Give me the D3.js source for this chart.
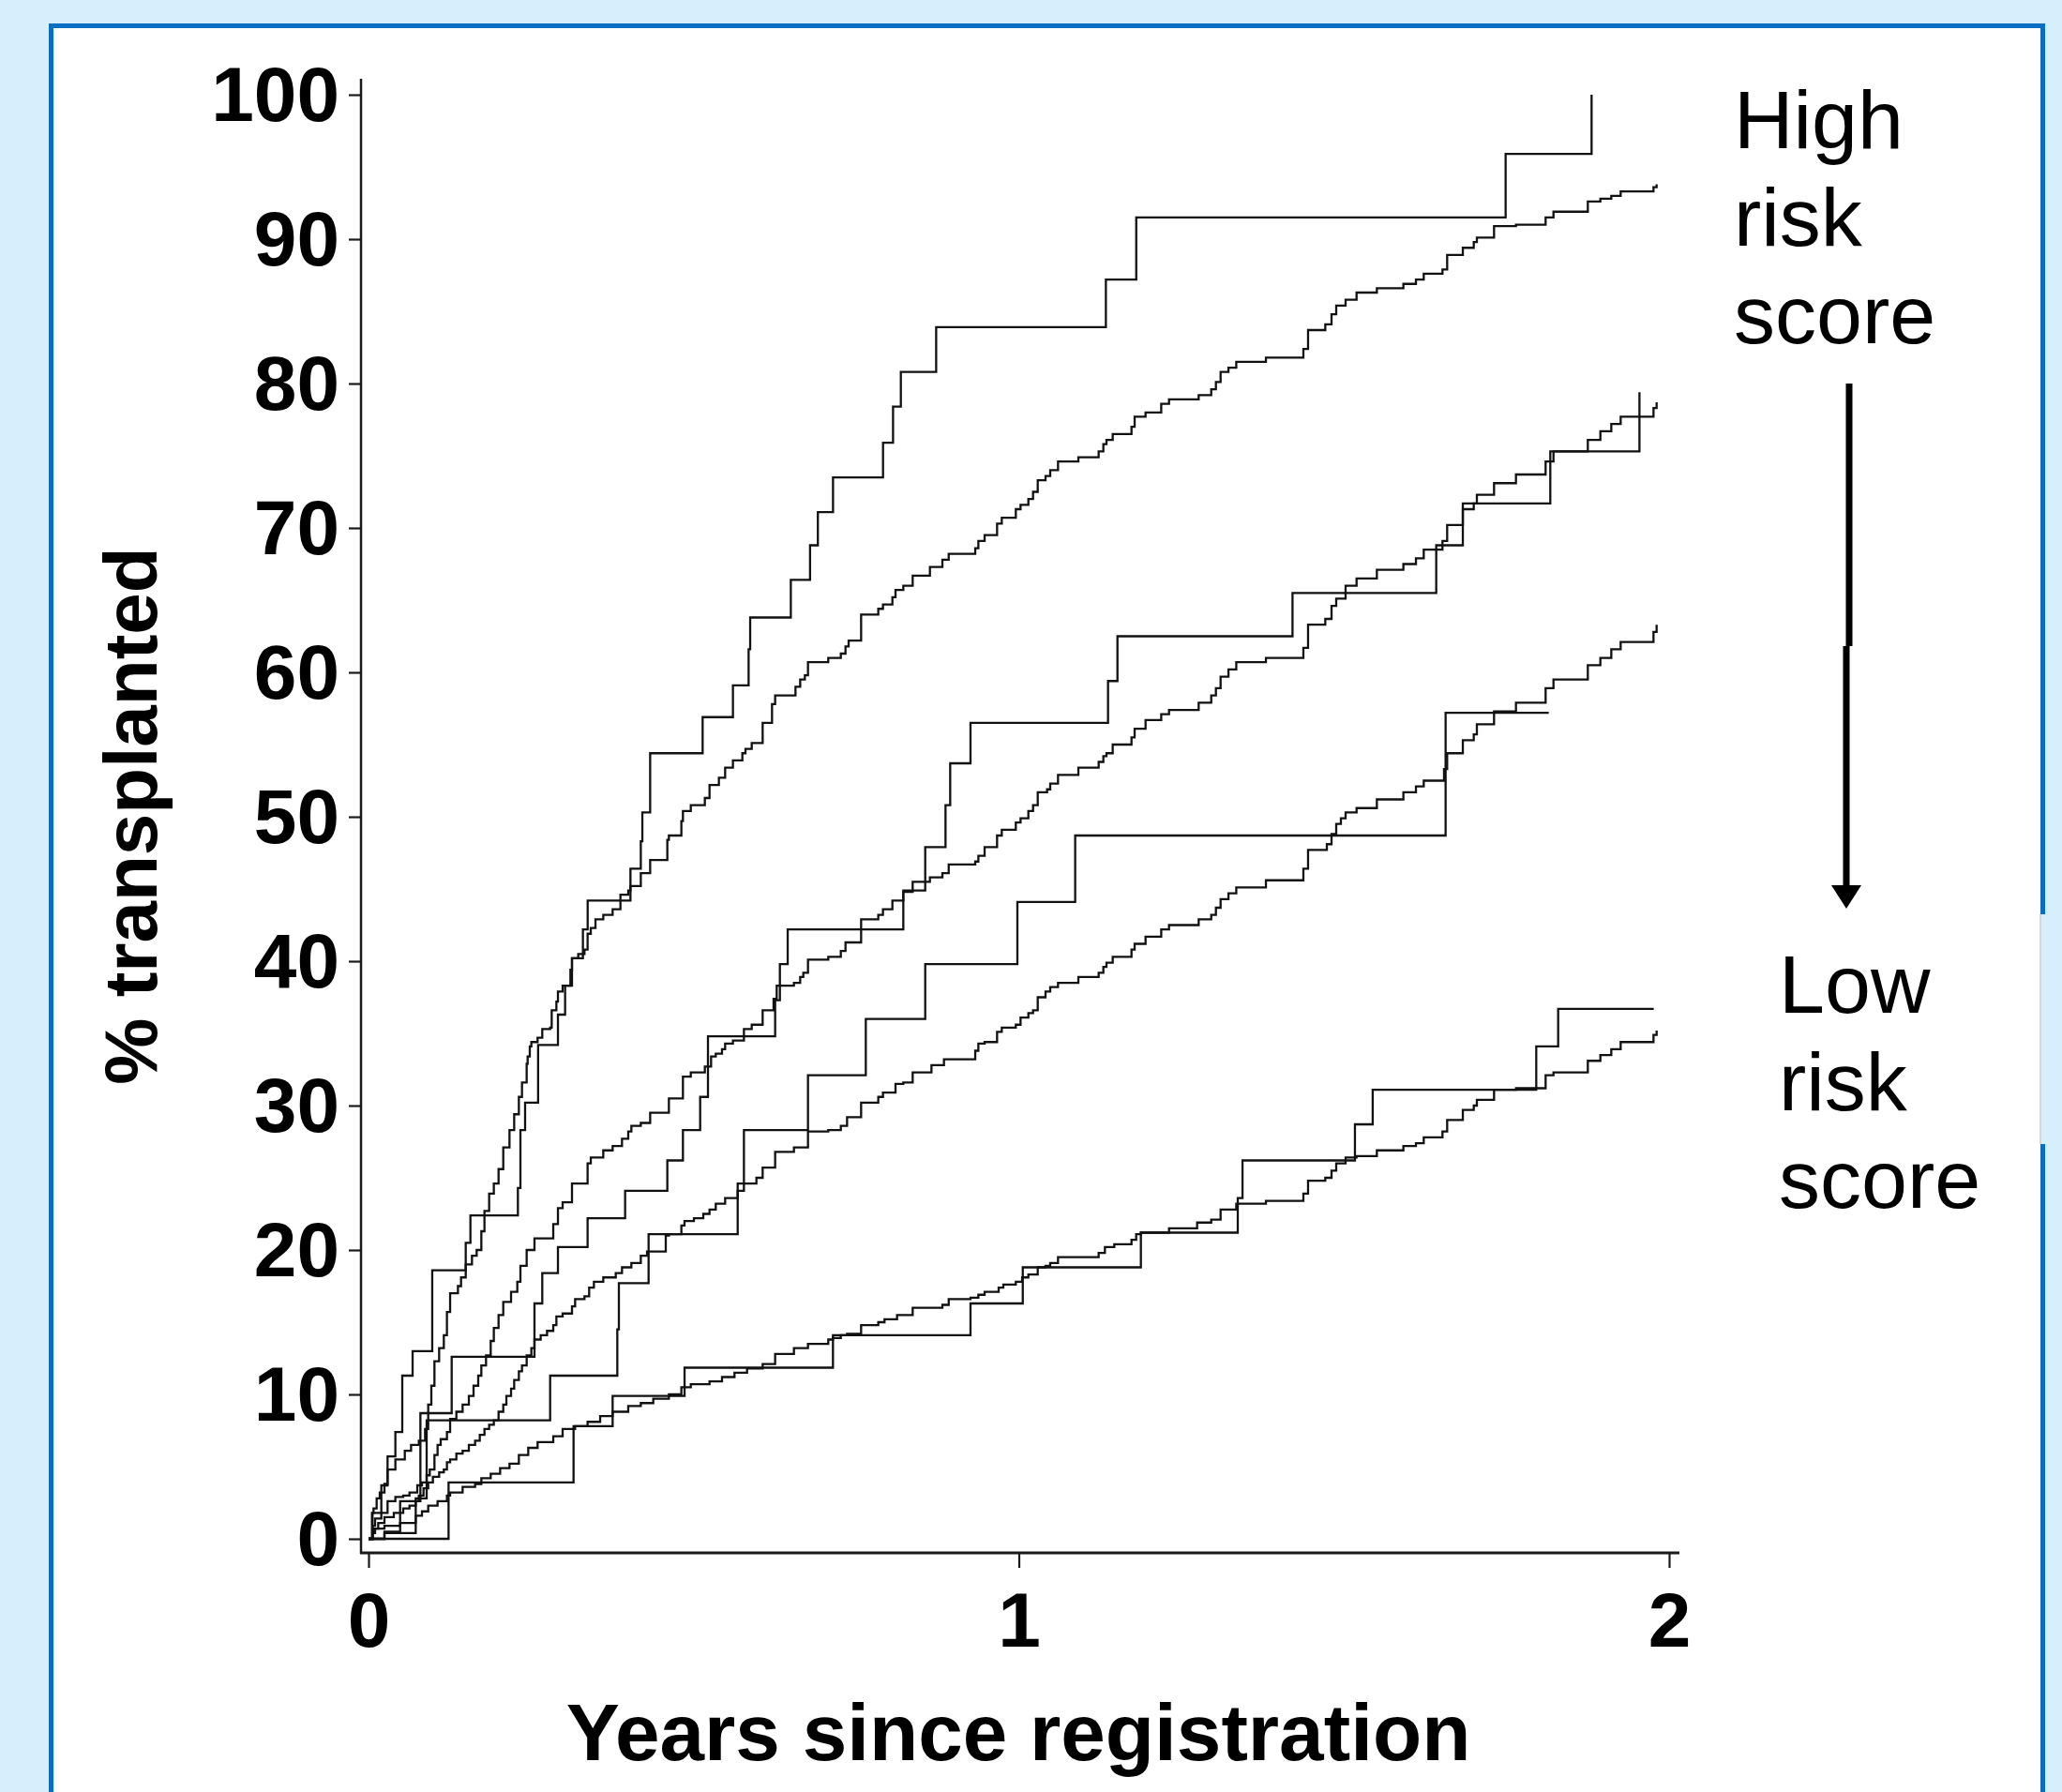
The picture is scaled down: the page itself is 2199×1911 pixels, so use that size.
<!DOCTYPE html>
<html><head><meta charset="utf-8">
<script src="https://cdn.jsdelivr.net/npm/d3@7"></script>
<style>
html,body{margin:0;padding:0;background:#d7eefc;}
svg{display:block;}
</style></head><body>
<svg id="chart" width="2199" height="1911"></svg>
<script>
// ---------- DATA ----------
const xTicks = [0, 1, 2];
const yTicks = [0, 10, 20, 30, 40, 50, 60, 70, 80, 90, 100];
const xTitle = "Years since registration";
const yTitle = "% transplanted";
const highText = ["High", "risk", "score"];
const lowText = ["Low", "risk", "score"];

// [years, % transplanted] step points (Kaplan-Meier style)
const highObserved = [[0,0],[0.0062,1.8],[0.0197,3.7],[0.0293,5.7],[0.0413,7.4],[0.0519,11.3],[0.0678,13.0],[0.098,18.6],[0.1495,20.5],[0.1567,22.4],[0.2297,24.3],[0.2336,28.3],[0.2408,30.2],[0.2608,34.2],[0.2913,36.3],[0.3023,38.3],[0.3129,40.2],[0.3297,42.2],[0.337,44.2],[0.4028,46.4],[0.4187,48.3],[0.4211,50.3],[0.4331,54.4],[0.5138,56.9],[0.5604,59.1],[0.5845,61.6],[0.5869,63.8],[0.6494,66.4],[0.679,68.8],[0.691,71.1],[0.7143,73.5],[0.7912,75.9],[0.8066,78.4],[0.8186,80.8],[0.8729,83.9],[1.1339,87.2],[1.1806,91.5],[1.7486,95.9],[1.8808,100]];

const highPredicted = [[0,0],[0.0053,1.8],[0.0077,2.1],[0.0125,2.8],[0.0173,3.2],[0.0245,3.8],[0.0293,4.8],[0.0413,5.5],[0.0558,6.1],[0.0654,6.5],[0.0774,6.8],[0.087,7.6],[0.0918,9.3],[0.0966,10.6],[0.1014,12.3],[0.1086,13.2],[0.1158,14.1],[0.1206,15.7],[0.1255,17.0],[0.1375,17.5],[0.1423,18.1],[0.1495,19.0],[0.1591,19.6],[0.1663,20.0],[0.1735,21.3],[0.1783,22.7],[0.1855,23.9],[0.1927,24.6],[0.2,25.6],[0.2072,27.1],[0.2168,28.3],[0.224,29.4],[0.2312,30.6],[0.236,31.6],[0.2432,32.9],[0.2447,33.4],[0.248,34.1],[0.2504,34.4],[0.26,34.7],[0.2672,35.3],[0.2793,35.4],[0.2817,36.6],[0.2889,37.2],[0.2913,37.9],[0.2985,38.3],[0.3105,39.4],[0.3129,40.2],[0.3225,40.5],[0.3321,40.8],[0.3369,41.9],[0.3418,42.3],[0.349,42.9],[0.361,43.2],[0.3754,43.6],[0.3874,44.6],[0.3994,44.9],[0.4028,45.2],[0.4187,46.1],[0.4331,47.0],[0.4595,48.4],[0.4619,48.7],[0.4811,49.7],[0.4835,50.4],[0.4956,50.8],[0.5172,51.3],[0.5244,52.2],[0.5388,52.7],[0.5484,53.4],[0.5604,53.9],[0.5749,54.4],[0.5797,54.7],[0.5893,55.1],[0.6061,56.5],[0.6205,57.8],[0.6253,58.4],[0.6566,59.0],[0.6638,59.5],[0.671,59.8],[0.6758,60.7],[0.707,61.0],[0.7263,61.3],[0.7335,61.8],[0.7383,62.2],[0.7575,64.0],[0.7839,64.4],[0.7911,64.7],[0.8056,65.2],[0.8104,65.7],[0.8224,66.0],[0.8368,66.7],[0.8633,67.3],[0.8825,67.8],[0.8922,68.2],[0.933,68.6],[0.9378,69.1],[0.9474,69.5],[0.9666,70.3],[0.9738,70.7],[0.9954,71.3],[1.0027,71.6],[1.0147,72.0],[1.0219,72.5],[1.0291,73.3],[1.0411,73.6],[1.0483,74.0],[1.0603,74.6],[1.0916,74.9],[1.1228,75.3],[1.13,75.8],[1.1348,76.1],[1.1444,76.5],[1.1733,77.0],[1.1781,77.7],[1.1949,78.0],[1.219,78.6],[1.231,78.9],[1.2766,79.2],[1.2959,79.6],[1.3031,80.1],[1.3103,80.8],[1.3224,81.1],[1.3344,81.5],[1.38,81.8],[1.4376,82.4],[1.4448,83.7],[1.4713,84.1],[1.4809,84.8],[1.4881,85.4],[1.5025,85.8],[1.5194,86.3],[1.5506,86.6],[1.5914,86.9],[1.6107,87.2],[1.6227,87.6],[1.6515,87.9],[1.6587,88.9],[1.6828,89.4],[1.6996,89.8],[1.7044,90.1],[1.7308,90.9],[1.7645,91.0],[1.8101,91.5],[1.8222,91.9],[1.875,92.6],[1.8943,92.8],[1.9111,93.0],[1.9255,93.3],[1.976,93.6],[1.9808,93.8]];

const midHighObserved = [[0,0],[0.0245,0.5],[0.0486,2.6],[0.0798,8.7],[0.1279,12.6],[0.2552,16.3],[0.2672,18.4],[0.2913,20.2],[0.3369,22.2],[0.3946,24.1],[0.4595,26.2],[0.4835,28.3],[0.51,30.6],[0.522,34.8],[0.6253,37.3],[0.6326,39.8],[0.6446,42.2],[0.8224,44.9],[0.8561,47.9],[0.8873,50.8],[0.8945,53.7],[0.9257,56.5],[1.1372,59.4],[1.1517,62.5],[1.4209,65.5],[1.6419,68.8],[1.6828,71.7],[1.8173,75.3],[1.9544,79.4]];

const midHighPredicted = [[0,0],[0.0062,0.9],[0.0101,1.4],[0.0197,1.8],[0.0293,2.6],[0.0413,2.9],[0.0534,3.0],[0.063,3.2],[0.075,3.7],[0.0822,3.9],[0.0894,4.4],[0.0942,4.8],[0.1014,5.8],[0.1062,6.5],[0.111,6.9],[0.1206,7.4],[0.1255,8.3],[0.1351,8.8],[0.1447,9.3],[0.1543,9.9],[0.1615,10.6],[0.1687,11.3],[0.1735,12.0],[0.1807,12.7],[0.1879,13.7],[0.1927,14.6],[0.2,15.5],[0.2072,16.4],[0.2192,17.1],[0.2288,17.8],[0.2336,18.9],[0.2432,20.0],[0.2552,20.8],[0.2841,21.8],[0.2913,22.9],[0.2985,23.3],[0.3129,24.6],[0.3369,26.0],[0.3418,26.4],[0.361,26.9],[0.3754,27.2],[0.3898,27.7],[0.3994,28.2],[0.4042,28.6],[0.4187,28.8],[0.4331,29.5],[0.4619,30.5],[0.4835,32.0],[0.4956,32.3],[0.5172,32.7],[0.5268,33.4],[0.534,33.6],[0.5436,33.9],[0.5484,34.3],[0.5604,34.5],[0.5773,35.3],[0.5893,35.6],[0.6061,36.6],[0.6229,37.4],[0.6277,38.3],[0.6542,38.5],[0.6638,38.9],[0.6686,39.2],[0.6758,40.1],[0.707,40.3],[0.7263,40.7],[0.7335,41.3],[0.7575,42.9],[0.7839,43.2],[0.7911,43.6],[0.8056,44.2],[0.8224,44.8],[0.8368,45.5],[0.8633,45.8],[0.8825,46.1],[0.8922,46.7],[0.933,46.9],[0.9378,47.3],[0.9474,47.9],[0.9666,48.7],[0.9738,49.1],[0.9954,49.6],[1.0027,49.9],[1.0147,50.4],[1.0219,50.8],[1.0291,51.7],[1.0435,51.9],[1.0483,52.3],[1.0603,52.9],[1.0916,53.4],[1.1228,53.8],[1.13,54.2],[1.1348,54.4],[1.1444,55.0],[1.1733,55.5],[1.1781,56.1],[1.1949,56.7],[1.219,57.1],[1.231,57.4],[1.2766,57.9],[1.2959,58.4],[1.3031,58.9],[1.3103,59.7],[1.3224,60.2],[1.3344,60.7],[1.38,61.0],[1.4376,61.7],[1.4448,63.3],[1.4713,63.7],[1.4809,64.6],[1.4881,65.1],[1.5025,66.0],[1.5194,66.5],[1.5506,67.1],[1.5914,67.5],[1.6107,67.9],[1.6227,68.5],[1.6515,69.1],[1.6587,70.2],[1.6828,71.3],[1.6996,71.7],[1.7044,72.3],[1.7308,73.1],[1.7645,73.7],[1.8101,74.6],[1.8222,75.3],[1.875,76.1],[1.8943,76.7],[1.9111,77.2],[1.9255,77.7],[1.976,78.3],[1.9808,78.7]];

const midLowObserved = [[0,0],[0.0245,0.4],[0.0726,2.8],[0.0894,8.2],[0.2793,11.3],[0.3826,14.5],[0.385,17.7],[0.4307,21.1],[0.5677,24.6],[0.5773,28.3],[0.6758,32.1],[0.7647,36.0],[0.8561,39.8],[0.9978,44.1],[1.0867,48.7],[1.6563,57.2],[1.8149,57.2]];

const midLowPredicted = [[0,0],[0.0062,0.4],[0.0077,0.7],[0.0149,1.1],[0.0245,1.5],[0.0389,1.8],[0.0534,2.1],[0.063,2.3],[0.0726,2.6],[0.0774,3.0],[0.0846,3.5],[0.0918,3.9],[0.099,4.3],[0.1086,4.6],[0.1158,4.8],[0.1206,5.3],[0.1255,5.5],[0.1351,5.9],[0.1447,6.1],[0.1543,6.5],[0.1639,6.8],[0.1711,7.2],[0.1783,7.6],[0.1855,7.9],[0.1927,8.2],[0.2,8.8],[0.2072,9.3],[0.212,9.9],[0.2192,10.4],[0.224,11.0],[0.2312,11.6],[0.236,12.0],[0.2432,12.7],[0.2504,13.2],[0.2552,13.8],[0.2648,14.1],[0.2745,14.4],[0.2841,14.8],[0.2889,15.4],[0.2985,15.6],[0.3129,16.1],[0.3177,16.6],[0.3321,16.8],[0.3393,17.4],[0.3466,17.8],[0.361,18.1],[0.3802,18.4],[0.3898,18.8],[0.4042,19.1],[0.4187,19.6],[0.4283,19.9],[0.4571,21.0],[0.4619,21.1],[0.4811,21.7],[0.4859,22.0],[0.5004,22.2],[0.5148,22.5],[0.5244,22.8],[0.534,23.2],[0.5484,23.6],[0.5677,24.1],[0.5773,24.6],[0.5965,25.0],[0.6061,25.7],[0.6253,26.8],[0.6542,27.1],[0.6758,28.2],[0.707,28.3],[0.7263,28.6],[0.7359,29.2],[0.7575,30.2],[0.7839,30.6],[0.7911,30.9],[0.8104,31.5],[0.8224,31.6],[0.8368,32.3],[0.8657,32.8],[0.8849,33.2],[0.933,33.8],[0.9378,34.3],[0.9474,34.4],[0.9666,35.1],[0.9738,35.4],[0.9954,35.6],[1.0027,36.1],[1.0147,36.4],[1.0219,36.6],[1.0291,37.5],[1.0411,37.9],[1.0483,38.2],[1.0603,38.5],[1.0916,38.9],[1.1228,39.2],[1.13,39.6],[1.1348,39.9],[1.1444,40.3],[1.1733,40.8],[1.1781,41.2],[1.1949,41.7],[1.219,42.2],[1.231,42.5],[1.2766,42.9],[1.2959,43.2],[1.3031,43.7],[1.3103,44.3],[1.3224,44.7],[1.3344,45.1],[1.38,45.6],[1.4376,46.4],[1.4448,47.7],[1.4737,48.1],[1.4809,48.8],[1.4881,49.5],[1.4953,49.9],[1.5025,50.3],[1.5194,50.6],[1.5506,51.2],[1.5914,51.7],[1.6107,52.1],[1.6227,52.5],[1.6539,53.3],[1.6587,54.4],[1.6828,55.3],[1.6996,55.7],[1.7044,56.4],[1.7308,57.3],[1.7645,57.9],[1.8101,58.9],[1.8222,59.5],[1.875,60.5],[1.8943,61.0],[1.9111,61.6],[1.9255,62.1],[1.976,62.8],[1.9808,63.3]];

const lowObserved = [[0,0],[0.1231,3.9],[0.3153,7.8],[0.3754,9.9],[0.486,11.85],[0.7142,14.1],[0.9257,16.3],[1.0061,18.8],[1.1877,21.2],[1.3367,23.6],[1.344,26.2],[1.5169,28.7],[1.5442,31.1],[1.7957,34.1],[1.8294,36.7],[1.9764,36.7]];

const lowPredicted = [[0,0],[0.0062,0.4],[0.0101,0.7],[0.0245,0.9],[0.0486,1.1],[0.0726,1.6],[0.0822,1.9],[0.0918,2.3],[0.1062,2.6],[0.1206,3.0],[0.1255,3.2],[0.1447,3.6],[0.1639,3.8],[0.1735,4.2],[0.1879,4.5],[0.2024,4.9],[0.2168,5.2],[0.2312,5.8],[0.2456,6.3],[0.26,6.7],[0.2841,7.1],[0.2985,7.6],[0.3177,7.8],[0.3369,8.1],[0.3562,8.5],[0.3754,8.8],[0.3994,9.2],[0.4187,9.4],[0.4379,9.7],[0.4619,10.0],[0.4811,10.5],[0.4956,10.7],[0.5244,10.9],[0.5436,11.2],[0.5628,11.5],[0.5821,11.8],[0.6061,12.1],[0.6253,12.8],[0.6542,13.2],[0.6758,13.5],[0.707,13.8],[0.7142,13.9],[0.7263,14.1],[0.7359,14.2],[0.7575,14.8],[0.7839,15.0],[0.7935,15.2],[0.8128,15.5],[0.8368,16.0],[0.8825,16.2],[0.8922,16.6],[0.9257,16.7],[0.9378,16.9],[0.9474,17.1],[0.969,17.4],[0.9762,17.6],[0.9954,17.8],[1.0051,18.1],[1.0147,18.3],[1.0291,18.8],[1.0411,18.9],[1.0483,19.1],[1.0603,19.5],[1.1228,19.8],[1.1324,20.2],[1.1468,20.4],[1.1733,20.7],[1.1805,21.1],[1.1877,21.2],[1.231,21.5],[1.2742,21.9],[1.2959,22.1],[1.3103,22.8],[1.3344,23.2],[1.38,23.4],[1.4376,23.9],[1.4448,24.8],[1.4713,25.0],[1.4809,25.5],[1.4881,26.0],[1.5025,26.4],[1.5194,26.5],[1.5506,26.9],[1.5914,27.2],[1.6107,27.4],[1.6227,27.8],[1.6515,28.2],[1.6587,29.0],[1.6828,29.7],[1.6996,30.0],[1.7044,30.4],[1.7308,31.1],[1.7645,31.2],[1.8101,32.1],[1.8222,32.3],[1.875,33.1],[1.8943,33.5],[1.9111,33.9],[1.9255,34.4],[1.976,34.9],[1.9808,35.2]];

const seriesList = [highObserved, highPredicted, midHighObserved, midHighPredicted,
                    midLowObserved, midLowPredicted, lowObserved, lowPredicted];

// ---------- DRAW ----------
const svg = d3.select("#chart");
const W = 2199, H = 1911;
const FONT = "'Liberation Sans', Arial, Helvetica, sans-serif";

// panel
svg.append("rect").attr("x", 0).attr("y", 0).attr("width", W).attr("height", H).attr("fill", "#d7eefc");
svg.append("rect").attr("x", 54.5).attr("y", 27.5).attr("width", 2124).attr("height", 1920)
  .attr("fill", "#ffffff").attr("stroke", "#0a6fc2").attr("stroke-width", 5);
// small break in the right border
svg.append("rect").attr("x", 2175).attr("y", 975).attr("width", 7).attr("height", 245).attr("fill", "#d7eefc");
svg.append("line").attr("x1", 2176).attr("x2", 2176).attr("y1", 975).attr("y2", 1220)
  .attr("stroke", "#c9d3dc").attr("stroke-width", 1.5);

const x = d3.scaleLinear().domain([0, 2]).range([393, 1780]);
const y = d3.scaleLinear().domain([0, 100]).range([1641, 101]);

// axis lines (offset from data origin, as in the original)
const axisColor = "#1a1a1a";
svg.append("line").attr("x1", 385).attr("x2", 385).attr("y1", 84).attr("y2", 1657)
  .attr("stroke", axisColor).attr("stroke-width", 2.5);
svg.append("line").attr("x1", 384).attr("x2", 1791).attr("y1", 1656).attr("y2", 1656)
  .attr("stroke", axisColor).attr("stroke-width", 3);

const gy = svg.append("g").attr("transform", "translate(385,0)")
  .call(d3.axisLeft(y).tickValues(yTicks).tickSize(13).tickPadding(10).tickFormat(d3.format("d")));
gy.select(".domain").remove();
gy.selectAll(".tick line").attr("stroke", axisColor).attr("stroke-width", 2.2);
gy.selectAll(".tick text").attr("font-family", FONT).attr("font-weight", "bold")
  .attr("font-size", 82).attr("fill", "#000").attr("dy", "0.33em");

const gx = svg.append("g").attr("transform", "translate(0,1656)")
  .call(d3.axisBottom(x).tickValues(xTicks).tickSize(16).tickFormat(d3.format("d")));
gx.select(".domain").remove();
gx.selectAll(".tick line").attr("stroke", axisColor).attr("stroke-width", 2.2);
gx.selectAll(".tick text").attr("font-family", FONT).attr("font-weight", "bold")
  .attr("font-size", 82).attr("fill", "#000").attr("y", 42).attr("dy", "0.71em");

// axis titles
svg.append("text").attr("x", 1086).attr("y", 1877).attr("text-anchor", "middle")
  .attr("font-family", FONT).attr("font-weight", "bold").attr("font-size", 85.5).text(xTitle);
svg.append("text").attr("transform", "translate(167,870) rotate(-90)").attr("text-anchor", "middle")
  .attr("font-family", FONT).attr("font-weight", "bold").attr("font-size", 80).text(yTitle);

// curves
const line = d3.line().x(d => x(d[0])).y(d => y(d[1])).curve(d3.curveStepAfter);
svg.append("g").selectAll("path").data(seriesList).join("path")
  .attr("d", line).attr("fill", "none").attr("stroke", "#111").attr("stroke-width", 2.3)
  .attr("stroke-linejoin", "miter");

// annotations
const ann = svg.append("g").attr("font-family", FONT).attr("font-size", 88).attr("fill", "#000");
highText.forEach((t, i) => ann.append("text").attr("x", 1849).attr("y", 158 + i * 104).text(t));
lowText.forEach((t, i) => ann.append("text").attr("x", 1897).attr("y", 1080 + i * 104).text(t));

// arrow
svg.append("path").attr("d", "M1972,409 L1972,689 M1969,689 L1969,950")
  .attr("stroke", "#000").attr("stroke-width", 7).attr("fill", "none");
svg.append("path").attr("d", "M1953,944 L1985,944 L1969,969 Z").attr("fill", "#000");
</script>
</body></html>
